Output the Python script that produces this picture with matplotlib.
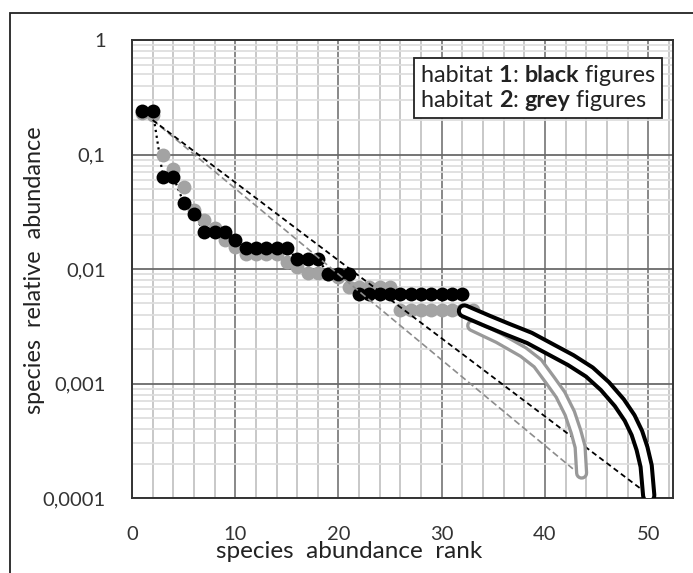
import matplotlib
matplotlib.use("Agg")
import matplotlib.pyplot as plt
from matplotlib.ticker import FixedLocator, FuncFormatter, NullFormatter
from matplotlib.offsetbox import TextArea, HPacker, VPacker, AnchoredOffsetbox
from matplotlib.patches import Rectangle

plt.rcParams['font.family'] = ['Lato', 'DejaVu Sans']

# habitat 1 (black) rank-abundance points
rank_h1 = list(range(1, 33))
abund_h1 = [0.24, 0.24, 0.064, 0.064, 0.038, 0.030, 0.021, 0.021, 0.021, 0.018,
            0.0152, 0.0152, 0.0152, 0.0152, 0.0152, 0.0122, 0.0122, 0.0122,
            0.0091, 0.0091, 0.0091,
            0.0060, 0.0060, 0.0060, 0.0060, 0.0060, 0.0060, 0.0060, 0.0060,
            0.0060, 0.0060, 0.0060]

# habitat 2 (grey) rank-abundance points
rank_h2 = list(range(1, 34))
abund_h2 = [0.23, 0.22, 0.099, 0.075, 0.052, 0.033, 0.027, 0.023, 0.018, 0.0155,
            0.0136, 0.0136, 0.0136, 0.0136, 0.0115, 0.0105, 0.0093, 0.0093,
            0.0090, 0.0085, 0.0070, 0.0070, 0.0070, 0.0070, 0.0070,
            0.0044, 0.0044, 0.0044, 0.0044, 0.0044, 0.0044, 0.0044, 0.0044]

# tail curves (rare species extrapolation)
tail_rank_h1 = [32.2, 33.0, 34.5, 36.3, 38.5, 40.5, 42.5, 44.3, 45.8, 47.2,
                48.2, 48.9, 49.4, 49.8, 50.05]
tail_abund_h1 = [0.0043, 0.0040, 0.0035, 0.0030, 0.0025, 0.0020, 0.0016, 0.00126,
                 0.00095, 0.00068, 0.00050, 0.00037, 0.00027, 0.00019, 0.000105]
tail_rank_h2 = [33.0, 35.5, 37.9, 39.3, 40.5, 41.5, 42.4, 43.0, 43.4, 43.55]
tail_abund_h2 = [0.0032, 0.0025, 0.00188, 0.0015, 0.00107, 0.00080, 0.00055,
                 0.00038, 0.00028, 0.000165]

# geometric-series reference lines
geo_rank_h1 = [2, 49.3]
geo_abund_h1 = [0.2, 0.00012]
geo_rank_h2 = [2, 42.7]
geo_abund_h2 = [0.2, 0.00018]

x_ticks = [0, 10, 20, 30, 40, 50]
y_ticks = [1e-4, 1e-3, 1e-2, 1e-1, 1]
y_tick_labels = ['0,0001', '0,001', '0,01', '0,1', '1']

W, H = 693, 573
fig = plt.figure(figsize=(W / 100, H / 100), dpi=100)

# outer frame
fig.patches.append(Rectangle((10 / W, -0.1), 1.2, (H - 13) / H + 0.1,
                             transform=fig.transFigure, fill=False,
                             edgecolor='#222222', linewidth=1.3))

left, right, top, bottom = 132, 673, 40, 498
ax = fig.add_axes([left / W, (H - bottom) / H, (right - left) / W, (bottom - top) / H])

ax.set_yscale('log')
ax.set_xlim(0, 52.4)
ax.set_ylim(1e-4, 1)

ax.xaxis.set_major_locator(FixedLocator(x_ticks))
ax.xaxis.set_minor_locator(FixedLocator([v for v in range(2, 53, 2) if v % 10]))
ax.yaxis.set_major_locator(FixedLocator(y_ticks))
minor_y = [m * 10.0 ** e for e in range(-4, 0) for m in range(2, 10)]
ax.yaxis.set_minor_locator(FixedLocator(minor_y))
ax.yaxis.set_major_formatter(FuncFormatter(
    lambda v, p: y_tick_labels[y_ticks.index(min(y_ticks, key=lambda t: abs(t - v)))]))
ax.yaxis.set_minor_formatter(NullFormatter())

ax.grid(which='major', axis='x', color='#7f7f7f', linewidth=1.3)
ax.grid(which='minor', axis='x', color='#c4c4c4', linewidth=1.3)
ax.grid(which='major', axis='y', color='#6a6a6a', linewidth=1.3)
ax.grid(which='minor', axis='y', color='#dedede', linewidth=1.3)
ax.set_axisbelow(True)

ax.tick_params(which='both', length=0, labelsize=14.5, labelcolor='#333333')
ax.tick_params(axis='x', pad=20)
ax.tick_params(axis='y', pad=19)
for s in ax.spines.values():
    s.set_color('#333333')
    s.set_linewidth(1.4)

# data points
ax.plot(rank_h2, abund_h2, 'o', color='#a3a3a3', markersize=10, markeredgewidth=0, zorder=3)
ax.plot(rank_h1, abund_h1, ':', color='black', linewidth=1.6, zorder=2)
ax.plot(rank_h1, abund_h1, 'o', color='black', markersize=10, markeredgewidth=0, zorder=4)

# reference lines
ax.plot(geo_rank_h2, geo_abund_h2, '--', color='#8c8c8c', linewidth=1.2, dashes=(4, 2), zorder=5)
ax.plot(geo_rank_h1, geo_abund_h1, '--', color='black', linewidth=1.3, dashes=(3, 2), zorder=5)

# outlined tail curves
kw = dict(solid_capstyle='round', solid_joinstyle='round')
ax.plot(tail_rank_h2, tail_abund_h2, color='#999999', linewidth=9.5, zorder=6, **kw)
ax.plot(tail_rank_h2, tail_abund_h2, color='white', linewidth=4.8, zorder=6, **kw)
ax.plot(tail_rank_h1, tail_abund_h1, color='black', linewidth=11, zorder=7, **kw)
ax.plot(tail_rank_h1, tail_abund_h1, color='white', linewidth=5.2, zorder=7, **kw)

# note with bold parts
fs = 16.8
tp = dict(size=fs, color='#222222')
tb = dict(size=fs, color='#222222', weight='bold')


def note_line(num, word):
    return HPacker(children=[TextArea('habitat ', textprops=tp), TextArea(num, textprops=tb),
                             TextArea(': ', textprops=tp), TextArea(word, textprops=tb),
                             TextArea(' figures', textprops=tp)],
                   align='baseline', pad=0, sep=0)


box = VPacker(children=[note_line('1', 'black'), note_line('2', 'grey')],
              align='left', pad=0, sep=3)
anch = AnchoredOffsetbox(loc='upper right', child=box, pad=0.5, frameon=True,
                         bbox_to_anchor=(662 / W, (H - 58) / H),
                         bbox_transform=fig.transFigure, borderpad=0)
anch.patch.set_edgecolor('#222222')
anch.patch.set_linewidth(1.3)
anch.patch.set_boxstyle('square', pad=0)
anch.zorder = 10
ax.add_artist(anch)

fig.text(35 / W, 1 - 270 / H, 'species  relative  abundance', rotation=90,
         ha='center', va='center', fontsize=16.8, color='#222222')
fig.text(349 / W, 1 - 552 / H, 'species  abundance  rank',
         ha='center', va='center', fontsize=17.5, color='#222222')

fig.savefig('out.png', dpi=100)
